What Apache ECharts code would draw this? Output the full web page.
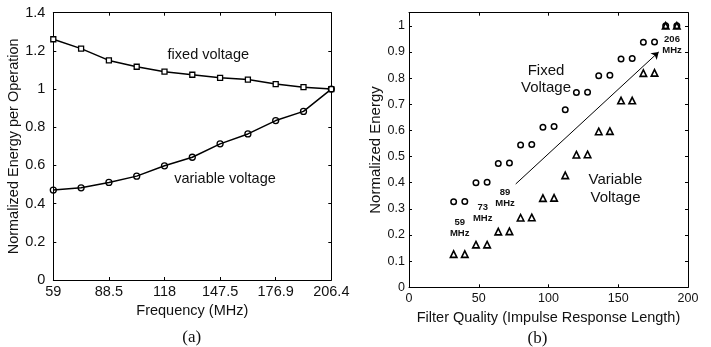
<!DOCTYPE html>
<html>
<head>
<meta charset="utf-8">
<script src="https://cdn.jsdelivr.net/npm/echarts@6/dist/echarts.min.js"></script>
<style>
html,body{margin:0;padding:0;background:#fff;}
#chart{width:711px;height:347px;}
</style>
</head>
<body>
<div id="chart"></div>
<script>
// ---- Data: panel (a) ----
var freqCategories = ['59', '73.7', '88.5', '103.2', '118', '132.7', '147.5', '162.2', '176.9', '191.7', '206.4'];
var fixedVoltage = [1.261, 1.212, 1.150, 1.117, 1.091, 1.075, 1.059, 1.050, 1.026, 1.010, 1.000];
var variableVoltage = [0.471, 0.483, 0.511, 0.544, 0.598, 0.643, 0.713, 0.765, 0.835, 0.883, 1.000];

// ---- Data: panel (b) ----
var filterLength = [32, 40, 48, 56, 64, 72, 80, 88, 96, 104, 112, 120, 128, 136, 144, 152, 160, 168, 176, 184, 192];
var fixedEnergy = [0.327, 0.328, 0.400, 0.402, 0.473, 0.475, 0.544, 0.546, 0.612, 0.615, 0.679, 0.745, 0.746, 0.809, 0.811, 0.873, 0.875, 0.937, 0.938, 1.000, 1.000];
var variableEnergy = [0.127, 0.127, 0.163, 0.163, 0.213, 0.214, 0.266, 0.267, 0.341, 0.342, 0.428, 0.507, 0.508, 0.596, 0.597, 0.714, 0.714, 0.819, 0.820, 1.000, 1.000];
var arrowStart = [76.5, 0.395];
var arrowEnd = [179, 0.9];

function pairs(xs, ys) { return xs.map(function (x, i) { return [x, ys[i]]; }); }

var FONT = 'Liberation Sans, Arial, Helvetica, sans-serif';
var SERIF = 'Liberation Serif, Times New Roman, serif';
var INK = '#111';

var axisLine = { show: true, onZero: false, lineStyle: { color: '#000', width: 1 } };
function tick(interval) {
  var t = { show: true, inside: true, length: 3, lineStyle: { color: '#000', width: 1 } };
  if (interval !== undefined) t.interval = interval;
  return t;
}

var chart = echarts.init(document.getElementById('chart'), null, { renderer: 'canvas' });

var option = {
  animation: false,
  backgroundColor: '#fff',
  grid: [
    { left: 53.3, top: 12.7, width: 278, height: 267.3, outerBoundsMode: 'none', containLabel: false },
    { left: 409, top: 12.7, width: 279, height: 274.6, outerBoundsMode: 'none', containLabel: false }
  ],
  xAxis: [
    {
      type: 'category', gridIndex: 0, data: freqCategories, boundaryGap: false,
      axisLine: axisLine, axisTick: tick(1),
      axisLabel: { interval: 1, color: INK, fontFamily: FONT, fontSize: 14.5, margin: 4 },
      splitLine: { show: false },
      name: 'Frequency (MHz)', nameLocation: 'middle', nameGap: 19,
      nameTextStyle: { color: INK, fontFamily: FONT, fontSize: 14.5 }
    },
    {
      type: 'category', gridIndex: 0, data: freqCategories, boundaryGap: false, position: 'top',
      axisLine: axisLine, axisTick: tick(1), axisLabel: { show: false }, splitLine: { show: false }
    },
    {
      type: 'value', gridIndex: 1, min: 0, max: 200, interval: 50,
      axisLine: axisLine, axisTick: tick(),
      axisLabel: { color: INK, fontFamily: FONT, fontSize: 12.5, margin: 5 },
      splitLine: { show: false },
      name: 'Filter Quality (Impulse Response Length)', nameLocation: 'middle', nameGap: 18,
      nameTextStyle: { color: INK, fontFamily: FONT, fontSize: 14.5 }
    },
    {
      type: 'value', gridIndex: 1, min: 0, max: 200, interval: 50, position: 'top',
      axisLine: axisLine, axisTick: tick(), axisLabel: { show: false }, splitLine: { show: false }
    }
  ],
  yAxis: [
    {
      type: 'value', gridIndex: 0, min: 0, max: 1.4, interval: 0.2,
      axisLine: axisLine, axisTick: tick(),
      axisLabel: { color: INK, fontFamily: FONT, fontSize: 14.5, margin: 8 },
      splitLine: { show: false },
      name: 'Normalized Energy per Operation', nameLocation: 'middle', nameGap: 30,
      nameTextStyle: { color: INK, fontFamily: FONT, fontSize: 14.5 }
    },
    {
      type: 'value', gridIndex: 0, min: 0, max: 1.4, interval: 0.2, position: 'right',
      axisLine: axisLine, axisTick: tick(), axisLabel: { show: false }, splitLine: { show: false }
    },
    {
      type: 'value', gridIndex: 1, min: 0, max: 1.05, interval: 0.1,
      axisLine: axisLine, axisTick: tick(),
      axisLabel: {
        color: INK, fontFamily: FONT, fontSize: 12.5, margin: 4, showMaxLabel: false,
        formatter: function (v) { return v > 1.001 ? '' : String(Math.round(v * 10) / 10); }
      },
      splitLine: { show: false },
      name: 'Normalized Energy', nameLocation: 'middle', nameGap: 25,
      nameTextStyle: { color: INK, fontFamily: FONT, fontSize: 15 }
    },
    {
      type: 'value', gridIndex: 1, min: 0, max: 1.05, interval: 0.1, position: 'right',
      axisLine: axisLine, axisTick: tick(), axisLabel: { show: false }, splitLine: { show: false }
    }
  ],
  series: [
    {
      name: 'fixed voltage', type: 'line', xAxisIndex: 0, yAxisIndex: 0,
      data: fixedVoltage, symbol: 'rect', symbolSize: 5, showAllSymbol: true,
      lineStyle: { color: '#000', width: 1.5 },
      itemStyle: { color: '#fff', borderColor: '#000', borderWidth: 1.3, opacity: 1 }
    },
    {
      name: 'variable voltage', type: 'line', xAxisIndex: 0, yAxisIndex: 0,
      data: variableVoltage, symbol: 'circle', symbolSize: 6, showAllSymbol: true,
      lineStyle: { color: '#000', width: 1.5 },
      itemStyle: { color: 'rgba(255,255,255,0)', borderColor: '#000', borderWidth: 1.3, opacity: 1 }
    },
    {
      name: 'Fixed Voltage', type: 'scatter', xAxisIndex: 2, yAxisIndex: 2,
      data: pairs(filterLength, fixedEnergy), symbol: 'circle', symbolSize: 5.5,
      itemStyle: { color: 'rgba(255,255,255,0)', borderColor: '#000', borderWidth: 1.5, opacity: 1 },
      markLine: {
        silent: true, symbol: ['none', 'arrow'], symbolSize: 7,
        label: { show: false },
        lineStyle: { color: '#000', width: 1, type: 'solid', opacity: 1 },
        itemStyle: { color: '#000' },
        emphasis: { disabled: true },
        data: [[{ coord: arrowStart }, { coord: arrowEnd }]]
      }
    },
    {
      name: 'Variable Voltage', type: 'scatter', xAxisIndex: 2, yAxisIndex: 2,
      data: pairs(filterLength, variableEnergy), symbol: 'triangle', symbolSize: 6.5,
      itemStyle: { color: 'rgba(255,255,255,0)', borderColor: '#000', borderWidth: 1.6, opacity: 1 }
    }
  ],
  graphic: [
    { type: 'text', style: { text: 'fixed voltage', x: 208.3, y: 55, align: 'center', verticalAlign: 'middle', textAlign: 'center', textVerticalAlign: 'middle', fontFamily: FONT, fontSize: 14.5, fill: INK } },
    { type: 'text', style: { text: 'variable voltage', x: 225, y: 179, align: 'center', verticalAlign: 'middle', textAlign: 'center', textVerticalAlign: 'middle', fontFamily: FONT, fontSize: 14.5, fill: INK } },
    { type: 'text', style: { text: 'Fixed\nVoltage', x: 546, y: 79.7, lineHeight: 17.3, align: 'center', verticalAlign: 'middle', textAlign: 'center', textVerticalAlign: 'middle', fontFamily: FONT, fontSize: 15, fill: INK } },
    { type: 'text', style: { text: 'Variable\nVoltage', x: 615.5, y: 189.2, lineHeight: 18.3, align: 'center', verticalAlign: 'middle', textAlign: 'center', textVerticalAlign: 'middle', fontFamily: FONT, fontSize: 15, fill: INK } },
    { type: 'text', style: { text: '59\nMHz', x: 459.7, y: 227.8, lineHeight: 11, align: 'center', verticalAlign: 'middle', textAlign: 'center', textVerticalAlign: 'middle', fontFamily: FONT, fontSize: 9.5, fontWeight: 'bold', fill: INK } },
    { type: 'text', style: { text: '73\nMHz', x: 482.7, y: 212.8, lineHeight: 11, align: 'center', verticalAlign: 'middle', textAlign: 'center', textVerticalAlign: 'middle', fontFamily: FONT, fontSize: 9.5, fontWeight: 'bold', fill: INK } },
    { type: 'text', style: { text: '89\nMHz', x: 505, y: 198.3, lineHeight: 11, align: 'center', verticalAlign: 'middle', textAlign: 'center', textVerticalAlign: 'middle', fontFamily: FONT, fontSize: 9.5, fontWeight: 'bold', fill: INK } },
    { type: 'text', style: { text: '206\nMHz', x: 672, y: 44.8, lineHeight: 11.7, align: 'center', verticalAlign: 'middle', textAlign: 'center', textVerticalAlign: 'middle', fontFamily: FONT, fontSize: 9.5, fontWeight: 'bold', fill: INK } },
    { type: 'text', style: { text: '(a)', x: 191.7, y: 337.3, align: 'center', verticalAlign: 'middle', textAlign: 'center', textVerticalAlign: 'middle', fontFamily: SERIF, fontSize: 17, fill: INK } },
    { type: 'text', style: { text: '(b)', x: 537.5, y: 338.3, align: 'center', verticalAlign: 'middle', textAlign: 'center', textVerticalAlign: 'middle', fontFamily: SERIF, fontSize: 17, fill: INK } }
  ]
};

chart.setOption(option);
</script>
</body>
</html>
